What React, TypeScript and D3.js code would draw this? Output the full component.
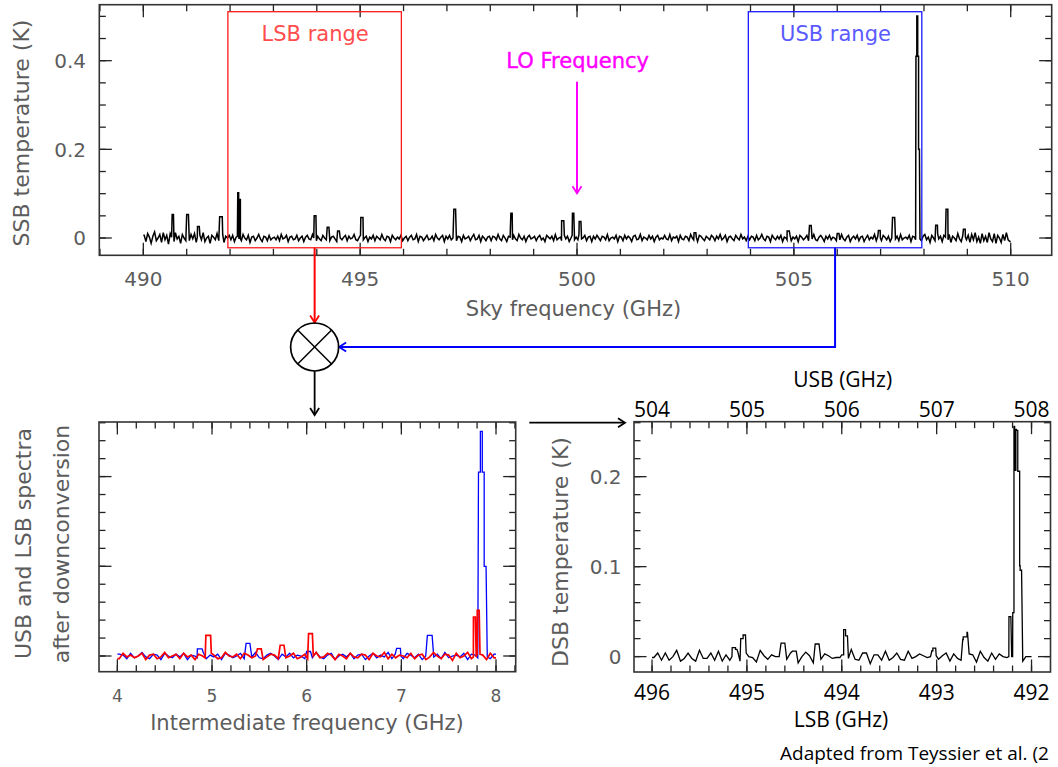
import React from "react";
import * as d3 from "d3";

// ---------------------------------------------------------------- data
const LO_FREQ = 500; // GHz

const skyTicks = [490, 495, 500, 505, 510];
const ssbTicks = [0, 0.2, 0.4];
const ifTicks = [4, 5, 6, 7, 8];
const usbTicks = [504, 505, 506, 507, 508];
const lsbTicks = [496, 495, 494, 493, 492];
const dsbTicks = [0, 0.1, 0.2];
const ifSpectraTicks = [0, 0.2, 0.4];

const lsbRange = [491.95, 495.95];
const usbRange = [503.95, 507.95];

// baseline ripple of the sky spectrum, in units of 2 mK, one value per 40 MHz channel from 490 GHz
const channelStart = 490;
const channelWidth = 0.04;
const rippleUnit = 0.002; // K
const baselineRipple = [
  3, -4, 5, 1, -6, 2, 7, -3, 0, 4, -5, 6, -2, 3, -7, 5, 1, -4, 6, -1, 2, -6, 4, 0, -3,
  2, -3, 4, -1, 5, -5, 1, 3, -2, 6, -4, 0, 2, -6, 3, 1, -2, 5, -3, -1, 4, -5, 2, 0, 3,
  -2, 3, -4, 1, 2, -1, -3, 4, 0, -2, 3, -5, 1, 2, -3, 0, 4, -1, -4, 2, 1, -3, 3, -2, 0,
  1, -2, 2, -3, 4, -1, 0, 3, -4, 1, 2, -2, -1, 3, -3, 0, 2, -4, 1, 3, -1, -2, 4, 0, -3,
  2, -1, -3, 3, 0, -2, 4, -3, 1, 2, -1, -4, 3, 0, -2, 1, 3, -3, 2, -1, 0, 4, -2, -3, 1,
  3, -2, 0, 2, -4, 1, -1, 3, -3, 2, 0, -2, 4, -1, -3, 2, 1, -4, 3, 0, -2, 1, -1, 3, -3,
  0, 2, -3, 1, 3, -2, -1, 4, -4, 2, 1, -3, 0, 3, -2, -1, 2, -3, 4, 0, -2, 1, 3, -4, 2,
  -1, 3, -2, 0, 4, -3, 2, 1, -4, 3, -1, 0, 2, -3, 1, 4, -2, -1, 3, -4, 2, 0, -3, 1, 2,
  -3, 2, 1, -2, 4, -1, -3, 3, 0, -4, 2, 1, -2, 3, -1, -3, 4, 0, -2, 2, -4, 1, 3, -1, 0,
  2, -3, 1, 3, -2, 0, -4, 3, 1, -1, 2, -3, 4, -2, 0, 1, -3, 3, -1, 2, -4, 0, 3, -2, 1,
  -2, 4, -1, 0, 3, -3, 1, 2, -4, 2, -1, 3, 0, -3, 2, 1, -2, 4, -3, 0, 1, -1, 3, -4, 2,
  1, -3, 3, -1, 2, 0, -4, 2, 3, -2, -1, 4, -3, 1, 0, -2, 3, -1, 2, -4, 1, 3, -2, 0, -1,
  3, -1, -2, 4, -3, 1, 0, 2, -4, 3, -1, -2, 2, 1, -3, 4, 0, -2, 1, -4, 3, 2, -1, -3, 2,
  0, -2, 3, 1, -3, 2, -1, 4, -2, 0, 3, -4, 1, 2, -1, -3, 3, 0, -2, 4, -1, 1, -3, 2, -2,
  2, 1, -3, 3, -2, 0, 4, -1, -3, 2, 1, -4, 3, 0, -2, 2, -1, 3, -4, 1, 0, -2, 4, -3, 1,
  -1, 2, -4, 3, 1, -2, 0, 3, -3, 2, -1, 4, -2, -3, 1, 3, 0, -4, 2, -1, 3, -2, 1, 0, -3,
  2, -2, 4, -1, -3, 1, 3, -4, 0, 2, -1, 3, -3, 1, 2, -4, 0, 3, -2, 1, -1, 4, -3, 2, 0,
  -3, 3, 1, -2, 2, -4, 0, 3, -1, 2, -3, 4, -2, 0, 1, -1, 3, -4, 2, 1, -2, 3, -1, -3, 2,
  4, -2, 1, -5, 3, 0, -3, 5, -1, 2, -4, 3, 1, -2, 4, -5, 2, 0, -3, 5, -1, -4, 3, 1, -2,
  3, -5, 4, -2, 6, -4, 1, -6, 5, -3, 2, -5, 6, -1, -4, 5, -6, 3, 0, -5, 4, -3, 6, -2, -4,
];

// spectral lines in the sky spectrum: centre (GHz), full width (GHz), peak (K)
const lineCentre = [
  490.68, 491.02, 491.27, 491.79, 492.188, 492.228, 493.96, 494.26, 494.5, 495.04,
  497.18, 498.49, 499.67, 499.91, 500.07, 502.72,
  504.87, 505.38, 506.02, 506.97, 507.3,
  507.825, 507.845, 507.865, 507.885,
  508.29, 508.53, 508.93,
];
const lineWidth = [
  0.03, 0.04, 0.04, 0.06, 0.02, 0.02, 0.04, 0.04, 0.04, 0.05,
  0.04, 0.03, 0.05, 0.03, 0.04, 0.04,
  0.05, 0.04, 0.04, 0.04, 0.05,
  0.02, 0.02, 0.02, 0.02,
  0.04, 0.04, 0.04,
];
const linePeak = [
  0.053, 0.053, 0.026, 0.048, 0.102, 0.087, 0.05, 0.024, 0.016, 0.046,
  0.065, 0.056, 0.039, 0.056, 0.037, 0.012,
  0.016, 0.028, 0.01, 0.017, 0.046,
  0.41, 0.501, 0.41, 0.2,
  0.029, 0.065, 0.02,
];

// ---------------------------------------------------------------- spectra
// a spectrum is a run of intervals; `line` marks intervals that carry a spectral line
type Seg = { lo: number; hi: number; v: number; line: boolean };

function buildSkySpectrum(): Seg[] {
  const n = baselineRipple.length;
  const end = channelStart + n * channelWidth;
  const edges: number[] = d3.range(n + 1).map((i) => channelStart + i * channelWidth);
  lineCentre.forEach((c, i) => edges.push(c - lineWidth[i] / 2, c + lineWidth[i] / 2));
  edges.sort((a, b) => a - b);
  const uniq = edges.filter((e, i) => i === 0 || e - edges[i - 1] > 1e-7);
  const segs: Seg[] = [];
  for (let i = 0; i < uniq.length - 1; i++) {
    const lo = uniq[i];
    const hi = uniq[i + 1];
    const m = (lo + hi) / 2;
    if (m < channelStart || m > end) continue;
    const ch = Math.min(n - 1, Math.floor((m - channelStart) / channelWidth));
    let v = baselineRipple[ch] * rippleUnit;
    let peak = -Infinity;
    lineCentre.forEach((c, j) => {
      if (Math.abs(m - c) < lineWidth[j] / 2) peak = Math.max(peak, linePeak[j]);
    });
    const line = peak > -Infinity;
    if (line) v = peak;
    segs.push({ lo, hi, v, line });
  }
  return segs;
}

function clip(segs: Seg[], a: number, b: number): Seg[] {
  return segs
    .map((s) => ({ ...s, lo: Math.max(s.lo, a), hi: Math.min(s.hi, b) }))
    .filter((s) => s.hi - s.lo > 1e-9);
}

function segAt(segs: Seg[], f: number): Seg {
  const i = d3.bisector((s: Seg) => s.hi).left(segs, f);
  return segs[Math.min(i, segs.length - 1)];
}

const skySpec = buildSkySpectrum();
// after mixing with the LO: USB -> f - LO, LSB -> LO - f
const usbIF: Seg[] = clip(skySpec, LO_FREQ + 4, LO_FREQ + 8).map((s) => ({ ...s, lo: s.lo - LO_FREQ, hi: s.hi - LO_FREQ }));
const lsbIF: Seg[] = clip(skySpec, LO_FREQ - 8, LO_FREQ - 4)
  .map((s) => ({ ...s, lo: LO_FREQ - s.hi, hi: LO_FREQ - s.lo }))
  .reverse();

// double-sideband spectrum: both sidebands folded onto the same IF
function buildDsb(): Seg[] {
  const edges = [...usbIF.flatMap((s) => [s.lo, s.hi]), ...lsbIF.flatMap((s) => [s.lo, s.hi])].sort((a, b) => a - b);
  const uniq = edges.filter((e, i) => i === 0 || e - edges[i - 1] > 1e-7);
  const out: Seg[] = [];
  for (let i = 0; i < uniq.length - 1; i++) {
    const m = (uniq[i] + uniq[i + 1]) / 2;
    const u = segAt(usbIF, m);
    const l = segAt(lsbIF, m);
    out.push({ lo: uniq[i], hi: uniq[i + 1], v: (u.v + l.v) / 2, line: u.line || l.line });
  }
  return out;
}
const dsbIF = buildDsb();

// ---------------------------------------------------------------- drawing helpers
type Scale = d3.ScaleLinear<number, number>;

// baseline channels are joined centre to centre, line channels keep their flat tops
function spectrumPath(segs: Seg[], x: (v: number) => number, y: Scale): string {
  const pts: [number, number][] = [];
  segs.forEach((s, i) => {
    if (s.line) {
      pts.push([s.lo, s.v], [s.hi, s.v]);
    } else {
      if (i === 0) pts.push([s.lo, s.v]);
      pts.push([(s.lo + s.hi) / 2, s.v]);
      if (i === segs.length - 1) pts.push([s.hi, s.v]);
    }
  });
  return d3.line<[number, number]>().x((d) => x(d[0])).y((d) => y(d[1]))(pts) || "";
}

const GREY = "#5c5c5c";
const PG_FONT = "DejaVu Sans, sans-serif";

function Frame(props: {
  x: Scale; y: Scale; xMajor: number[]; xMinor: number[]; yMajor: number[]; yMinor: number[];
}) {
  const { x, y, xMajor, xMinor, yMajor, yMinor } = props;
  const [x0, x1] = x.range();
  const [y0, y1] = y.range(); // y0 bottom, y1 top
  const inX = (v: number) => { const d = x.domain(); return v >= Math.min(d[0], d[1]) && v <= Math.max(d[0], d[1]); };
  const inY = (v: number) => { const d = y.domain(); return v >= d[0] && v <= d[1]; };
  const majL = 12.5, minL = 6.5;
  const ticks: JSX.Element[] = [];
  const addX = (v: number, len: number, k: string) => {
    const px = x(v);
    ticks.push(<line key={"b" + k} x1={px} x2={px} y1={y0} y2={y0 - len} />);
    ticks.push(<line key={"t" + k} x1={px} x2={px} y1={y1} y2={y1 + len} />);
  };
  const addY = (v: number, len: number, k: string) => {
    const py = y(v);
    ticks.push(<line key={"l" + k} x1={x0} x2={x0 + len} y1={py} y2={py} />);
    ticks.push(<line key={"r" + k} x1={x1} x2={x1 - len} y1={py} y2={py} />);
  };
  xMinor.filter(inX).forEach((v, i) => addX(v, minL, "mx" + i));
  xMajor.filter(inX).forEach((v, i) => addX(v, majL, "Mx" + i));
  yMinor.filter(inY).forEach((v, i) => addY(v, minL, "my" + i));
  yMajor.filter(inY).forEach((v, i) => addY(v, majL, "My" + i));
  return (
    <g>
      <g stroke="#222" strokeWidth={1.3}>{ticks}</g>
      <rect x={x0} y={y1} width={x1 - x0} height={y0 - y1} fill="none" stroke="#333" strokeWidth={1.6} />
    </g>
  );
}

function Chevron({ x, y, dir, color }: { x: number; y: number; dir: "down" | "left" | "right"; color: string }) {
  const L = 7, h = 4.5;
  let d = "";
  if (dir === "down") d = `M${x - h},${y - L}L${x},${y}L${x + h},${y - L}`;
  if (dir === "left") d = `M${x + L},${y - h}L${x},${y}L${x + L},${y + h}`;
  if (dir === "right") d = `M${x - L},${y - h}L${x},${y}L${x - L},${y + h}`;
  return <path d={d} fill="none" stroke={color} strokeWidth={1.8} />;
}

// ---------------------------------------------------------------- scales
const xSky = d3.scaleLinear().domain([488.985, 510.945]).range([99.3, 1051.7]);
const ySsb = d3.scaleLinear().domain([-0.039, 0.5263]).range([255.3, 4.7]);

const xIF = d3.scaleLinear().domain([3.806, 8.208]).range([99, 515.7]);
const yIF = d3.scaleLinear().domain([-0.035, 0.5217]).range([671.7, 422]);

const xUsb = d3.scaleLinear().domain([503.81, 508.2]).range([634, 1050.5]);
const xLsb = d3.scaleLinear().domain([496.19, 491.8]).range([634, 1050.5]);
const yDsb = d3.scaleLinear().domain([-0.0171, 0.2611]).range([672, 421.7]);

export default function App() {
  const skyMinor = d3.range(489, 512, 1);
  const ssbMinor = d3.range(0, 11).map((i) => i * 0.05);
  const ifMinor = d3.range(19, 42).map((i) => i * 0.2);
  const ifYMinor = d3.range(0, 14).map((i) => i * 0.04);
  const usbMinor = d3.range(0, 21).map((i) => 504 + i * 0.2);
  const dsbMinor = d3.range(0, 14).map((i) => i * 0.02);

  const mixX = xSky((lsbRange[0] + lsbRange[1]) / 2);
  const mixY = 347;
  const mixR = 24;
  const usbMid = xSky((usbRange[0] + usbRange[1]) / 2);
  const boxTop = ySsb(0.5105);
  const boxBot = ySsb(-0.0220);
  const q = mixR * Math.SQRT1_2;

  return (
    <svg width={1058} height={767} style={{ position: "absolute", left: 0, top: 0, background: "#fff" }}>
      {/* ---------------- sky spectrum ---------------- */}
      <Frame x={xSky} y={ySsb} xMajor={skyTicks} xMinor={skyMinor} yMajor={ssbTicks} yMinor={ssbMinor} />
      <path d={spectrumPath(skySpec, xSky, ySsb)} fill="none" stroke="#000" strokeWidth={1.5} />
      <g fontFamily={PG_FONT} fontSize={20} fill={GREY}>
        {skyTicks.map((t) => (
          <text key={t} x={xSky(t)} y={285.7} textAnchor="middle">{t}</text>
        ))}
        {ssbTicks.map((t) => (
          <text key={t} x={86} y={ySsb(t) + 7.3} textAnchor="end">{t === 0 ? "0" : t.toFixed(1)}</text>
        ))}
      </g>
      <text x={573.5} y={316} textAnchor="middle" fontFamily={PG_FONT} fontSize={21} fill={GREY}>Sky frequency (GHz)</text>
      <text transform="translate(29,133) rotate(-90)" textAnchor="middle" fontFamily={PG_FONT} fontSize={22} fill={GREY}>SSB temperature (K)</text>

      {/* sideband boxes */}
      <rect x={xSky(lsbRange[0])} y={boxTop} width={xSky(lsbRange[1]) - xSky(lsbRange[0])} height={boxBot - boxTop} fill="none" stroke="#ff1a1a" strokeWidth={1.3} />
      <rect x={xSky(usbRange[0])} y={boxTop} width={xSky(usbRange[1]) - xSky(usbRange[0])} height={boxBot - boxTop} fill="none" stroke="#1a1aff" strokeWidth={1.3} />
      <text x={315.2} y={40.7} textAnchor="middle" fontFamily={PG_FONT} fontSize={21} fill="#ff4d4d">LSB range</text>
      <text x={835.5} y={40.7} textAnchor="middle" fontFamily={PG_FONT} fontSize={21} fill="#5a5aff">USB range</text>

      {/* LO marker */}
      <text x={577.7} y={68.3} textAnchor="middle" fontFamily={PG_FONT} fontSize={21} fill="#ff00ff" stroke="#ff00ff" strokeWidth={0.4}>LO Frequency</text>
      <line x1={xSky(LO_FREQ)} x2={xSky(LO_FREQ)} y1={81.7} y2={193} stroke="#ff00ff" strokeWidth={2} />
      <Chevron x={xSky(LO_FREQ)} y={193.3} dir="down" color="#ff00ff" />

      {/* ---------------- mixer ---------------- */}
      <line x1={mixX} x2={mixX} y1={boxBot} y2={mixY - mixR - 1} stroke="#ff0000" strokeWidth={2} />
      <Chevron x={mixX} y={mixY - mixR - 0.5} dir="down" color="#ff0000" />
      <path d={`M${usbMid},${boxBot}V${mixY}H${mixX + mixR + 1}`} fill="none" stroke="#0000ff" strokeWidth={2} />
      <Chevron x={mixX + mixR + 0.5} y={mixY} dir="left" color="#0000ff" />
      <circle cx={mixX} cy={mixY} r={mixR} fill="none" stroke="#000" strokeWidth={1.7} />
      <line x1={mixX - q} y1={mixY - q} x2={mixX + q} y2={mixY + q} stroke="#000" strokeWidth={1.5} />
      <line x1={mixX - q} y1={mixY + q} x2={mixX + q} y2={mixY - q} stroke="#000" strokeWidth={1.5} />
      <line x1={mixX} x2={mixX} y1={mixY + mixR} y2={414.5} stroke="#000" strokeWidth={1.8} />
      <Chevron x={mixX} y={415} dir="down" color="#000" />

      {/* ---------------- IF spectra ---------------- */}
      <Frame x={xIF} y={yIF} xMajor={ifTicks} xMinor={ifMinor} yMajor={ifSpectraTicks} yMinor={ifYMinor} />
      <path d={spectrumPath(usbIF, xIF, yIF)} fill="none" stroke="#0000ff" strokeWidth={1.3} />
      <path d={spectrumPath(lsbIF, xIF, yIF)} fill="none" stroke="#ff0000" strokeWidth={1.7} />
      <g fontFamily={PG_FONT} fontSize={17} fill={GREY}>
        {ifTicks.map((t) => (
          <text key={t} x={xIF(t)} y={702.3} textAnchor="middle">{t}</text>
        ))}
      </g>
      <text x={307} y={729.5} textAnchor="middle" fontFamily={PG_FONT} fontSize={21} fill={GREY}>Intermediate frequency (GHz)</text>
      <text transform="translate(30.5,543.5) rotate(-90)" textAnchor="middle" fontFamily={PG_FONT} fontSize={22} fill={GREY}>USB and LSB spectra</text>
      <text transform="translate(68.5,544) rotate(-90)" textAnchor="middle" fontFamily={PG_FONT} fontSize={22} fill={GREY}>after downconversion</text>

      <line x1={529.3} x2={624} y1={422.7} y2={422.7} stroke="#000" strokeWidth={1.8} />
      <Chevron x={625} y={422.7} dir="right" color="#000" />

      {/* ---------------- DSB spectrum ---------------- */}
      <Frame x={xUsb} y={yDsb} xMajor={usbTicks} xMinor={usbMinor} yMajor={dsbTicks} yMinor={dsbMinor} />
      <path d={spectrumPath(dsbIF, (v) => xUsb(v + LO_FREQ), yDsb)} fill="none" stroke="#000" strokeWidth={1.3} />
      <g fontFamily={PG_FONT} fontSize={20} fill={GREY}>
        {dsbTicks.map((t) => (
          <text key={t} x={621.5} y={yDsb(t) + 7.3} textAnchor="end">{t === 0 ? "0" : t.toFixed(1)}</text>
        ))}
      </g>
      <text transform="translate(568,552) rotate(-90)" textAnchor="middle" fontFamily={PG_FONT} fontSize={22} fill={GREY}>DSB temperature (K)</text>
      <g fontFamily="Open Sans, sans-serif" fontSize={21} fill="#000">
        {usbTicks.map((t) => (
          <text key={t} x={xUsb(t)} y={416.5} textAnchor="middle">{t}</text>
        ))}
        {lsbTicks.map((t) => (
          <text key={t} x={xLsb(t)} y={699.5} textAnchor="middle">{t}</text>
        ))}
        <text x={842.7} y={387} textAnchor="middle">USB (GHz)</text>
        <text x={841} y={727} textAnchor="middle">LSB (GHz)</text>
      </g>
      <text x={780} y={760} fontFamily="Open Sans, sans-serif" fontSize={19} fill="#000">Adapted from Teyssier et al. (2</text>
    </svg>
  );
}
